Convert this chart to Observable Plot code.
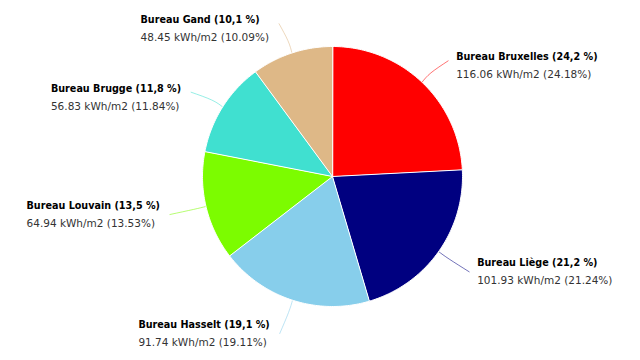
<!DOCTYPE html>
<html>
<head>
<meta charset="utf-8">
<script src="https://cdn.jsdelivr.net/npm/d3@7"></script>
<script src="https://cdn.jsdelivr.net/npm/@observablehq/plot@0.6"></script>
<style>
  html, body { margin: 0; padding: 0; background: #fff; }
  #chart svg { display: block; }
</style>
</head>
<body>
<div id="chart"></div>
<script>
const names = ["Bureau Bruxelles", "Bureau Liège", "Bureau Hasselt", "Bureau Louvain", "Bureau Brugge", "Bureau Gand"];
const values = [116.06, 101.93, 91.74, 64.94, 56.83, 48.45];
const percents = ["24.18", "21.24", "19.11", "13.53", "11.84", "10.09"];
const roundedPercents = ["24,2", "21,2", "19,1", "13,5", "11,8", "10,1"];
const colors = ["#FF0000", "#000080", "#87CEEB", "#7CFC00", "#40E0D0", "#DEB887"];

const W = 640, H = 360, R = 130, CX = 332, CY = 176;
const boldFont = "bold 10.7px 'DejaVu Sans Condensed', 'DejaVu Sans', sans-serif";
const regFont = "10.5px 'DejaVu Sans', sans-serif";

const arcs = d3.pie().sort(null).value((d, i) => values[i])(names);

const slicePts = [];
const connPts = [];
const labels = [];
const ctx = document.createElement("canvas").getContext("2d");
const measure = (t, f) => { ctx.font = f; return ctx.measureText(t).width; };

arcs.forEach((a, i) => {
  const name = names[i];
  slicePts.push({name, u: 0, v: 0});
  const n = Math.max(2, Math.ceil((a.endAngle - a.startAngle) / (Math.PI / 180)));
  for (let k = 0; k <= n; k++) {
    const ang = a.startAngle + (a.endAngle - a.startAngle) * k / n;
    slicePts.push({name, u: Math.sin(ang), v: Math.cos(ang)});
  }
  const mid = (a.startAngle + a.endAngle) / 2;
  const s = Math.sin(mid), c = Math.cos(mid);
  const rl = 165 / R;
  const right = s > 0, upper = c > 0;
  const lu = rl * s, lv = rl * c;
  const shift = (right ? 1 : -1) * 2 / R;
  connPts.push({name, u: s, v: c});
  connPts.push({name, u: 1.1 * s, v: 1.1 * c});
  connPts.push({name, u: lu + shift, v: lv - (upper ? 4 / R : 0)});
  const line1 = `${name} (${roundedPercents[i]} %)`;
  const line2 = `${values[i].toFixed(2)} kWh/m2 (${percents[i]}%)`;
  const bw = Math.max(measure(line1, boldFont), measure(line2, regFont));
  labels.push({name, u: lu, v: lv, line1, line2,
    dx: right ? 10 : -12 - bw,
    dy1: upper ? 0 : -9,
    dy2: upper ? 18 : 9});
});

const chart = Plot.plot({
  width: W, height: H,
  margin: 0,
  x: {domain: [-CX / R, (W - CX) / R], axis: null},
  y: {domain: [-(H - CY) / R, CY / R], axis: null},
  color: {type: "ordinal", domain: names, range: colors},
  marks: [
    Plot.line(connPts, {x: "u", y: "v", z: "name", stroke: "name", strokeWidth: 1, curve: "natural", strokeOpacity: 0.55}),
    Plot.line(slicePts, {x: "u", y: "v", z: "name", fill: "name", stroke: "white", strokeWidth: 1, curve: "linear-closed"}),
    ...labels.map(l => Plot.text([l], {x: "u", y: "v", text: "line1", dx: l.dx, dy: l.dy1, textAnchor: "start",
      fontWeight: "bold", fontSize: 10.7, fontFamily: "'DejaVu Sans Condensed', 'DejaVu Sans', sans-serif", fill: "#000"})),
    ...labels.map(l => Plot.text([l], {x: "u", y: "v", text: "line2", dx: l.dx, dy: l.dy2, textAnchor: "start",
      fontSize: 10.5, fontFamily: "'DejaVu Sans', sans-serif", fill: "#333"}))
  ]
});
document.getElementById("chart").appendChild(chart);
</script>
</body>
</html>
